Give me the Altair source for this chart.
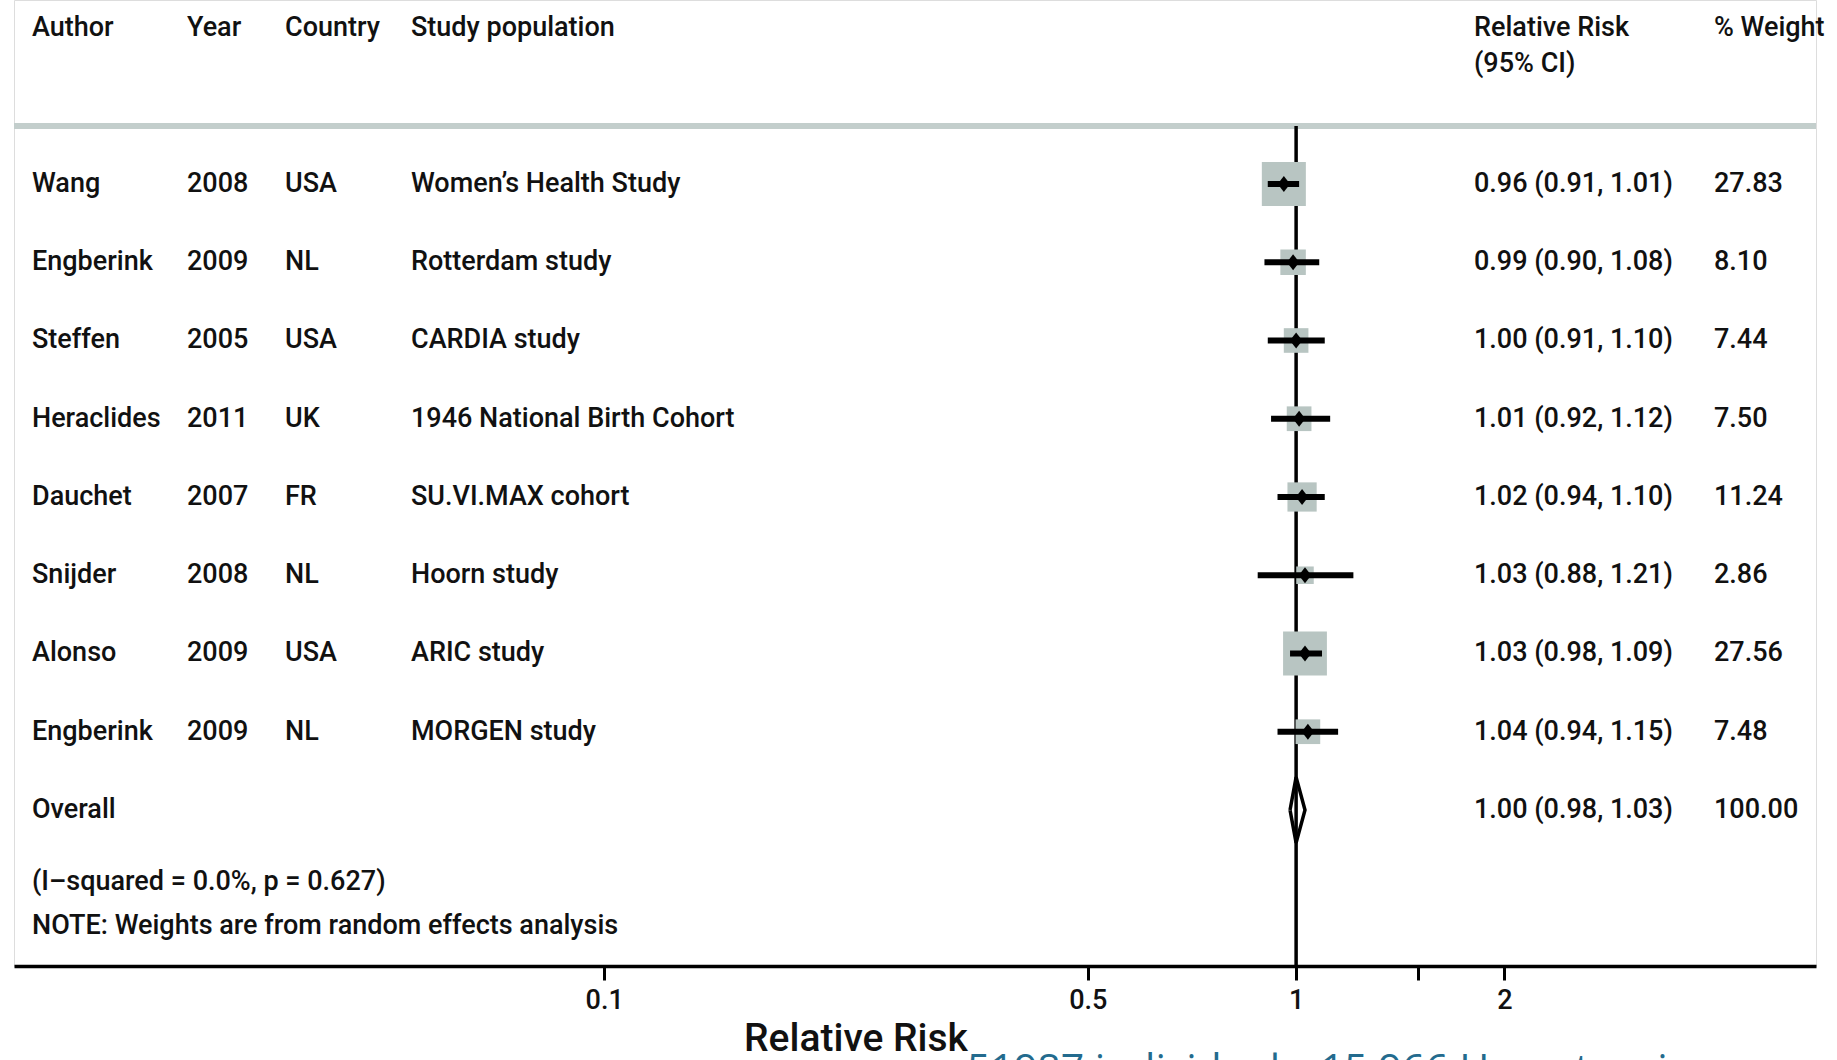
import altair as alt
import pandas as pd

# Study-level estimates (relative risk with 95% CI) and random-effects weights
authors = ["Wang", "Engberink", "Steffen", "Heraclides", "Dauchet", "Snijder", "Alonso", "Engberink"]
years = ["2008", "2009", "2005", "2011", "2007", "2008", "2009", "2009"]
countries = ["USA", "NL", "USA", "UK", "FR", "NL", "USA", "NL"]
populations = [
    "Women\u2019s Health Study", "Rotterdam study", "CARDIA study", "1946 National Birth Cohort",
    "SU.VI.MAX cohort", "Hoorn study", "ARIC study", "MORGEN study",
]
rr = [0.96, 0.99, 1.00, 1.01, 1.02, 1.03, 1.03, 1.04]
ci_low = [0.91, 0.90, 0.91, 0.92, 0.94, 0.88, 0.98, 0.94]
ci_high = [1.01, 1.08, 1.10, 1.12, 1.10, 1.21, 1.09, 1.15]
weights = [27.83, 8.10, 7.44, 7.50, 11.24, 2.86, 27.56, 7.48]

# Pooled estimate
overall_rr = 1.00
overall_low = 0.98
overall_high = 1.03
overall_weight = 100.00

header_cols = ["Author", "Year", "Country", "Study population"]
heterogeneity = "(I\u2013squared = 0.0%, p = 0.627)"
note = "NOTE: Weights are from random effects analysis"
tick_values = [0.1, 0.5, 1, 1.5, 2]

# ---- layout ----
W, H = 1802, 966
FONT = "Roboto"
FW = 500
FS = 27
INK = "#111111"
ROW_DOMAIN = [-1.3514, 10.994]
COL_X = {"author": 18, "year": 173, "country": 271, "pop": 397, "rr": 1460, "wt": 1700}

n = len(authors)
studies = pd.DataFrame({
    "row": list(range(1, n + 1)),
    "author": authors, "year": years, "country": countries, "pop": populations,
    "rr": rr, "lo": ci_low, "hi": ci_high, "weight": weights,
})
studies["rr_txt"] = [f"{a:.2f} ({b:.2f}, {c:.2f})" for a, b, c in zip(rr, ci_low, ci_high)]
studies["wt_txt"] = [f"{w:.2f}" for w in weights]

overall_row = n + 1
summary = pd.DataFrame({
    "row": [overall_row], "author": ["Overall"], "year": [""], "country": [""], "pop": [""],
    "rr_txt": [f"{overall_rr:.2f} ({overall_low:.2f}, {overall_high:.2f})"],
    "wt_txt": [f"{overall_weight:.2f}"],
})
text_rows = pd.concat(
    [studies[["row", "author", "year", "country", "pop", "rr_txt", "wt_txt"]], summary],
    ignore_index=True,
)

# Pooled diamond outline, traced through its four vertices
half = 0.42
diamond = pd.DataFrame({
    "x": [overall_low, overall_rr, overall_high, overall_rr, overall_low],
    "row": [overall_row, overall_row - half, overall_row, overall_row + half, overall_row],
    "k": [0, 1, 2, 3, 4],
})

xscale = alt.Scale(type="log", domain=[0.01403, 5.641], nice=False, zero=False)
yscale = alt.Scale(domain=ROW_DOMAIN, reverse=True, nice=False, zero=False)

x_axis = alt.Axis(
    values=tick_values,
    labelExpr="datum.value == 1.5 ? '' : format(datum.value, '')",
    title=None, grid=False, domainColor="black", domainWidth=3.5,
    tickColor="black", tickWidth=3, tickSize=14, labelPadding=7,
    labelFont=FONT, labelFontWeight=FW, labelFontSize=FS, labelColor=INK, labelFlush=False,
    labelOverlap=False,
)

base = alt.Chart(studies)
one = alt.Chart(pd.DataFrame({"v": [1]}))

separator = one.mark_rule(color="#c3cecc", strokeWidth=6).encode(
    x=alt.value(0), x2=alt.value(W), y=alt.value(126)
)

null_line = one.mark_rule(color="black", strokeWidth=3.5).encode(
    x=alt.X("v:Q", scale=xscale, axis=x_axis), y=alt.value(126), y2=alt.value(H)
)

squares = base.mark_square(color="#b8c5c2", opacity=1).encode(
    x=alt.X("rr:Q", scale=xscale),
    y=alt.Y("row:Q", scale=yscale, axis=None),
    size=alt.Size("weight:Q", scale=alt.Scale(domain=[0, 28], range=[120, 1950]), legend=None),
)

ci = base.mark_rule(color="black", strokeWidth=6).encode(
    x=alt.X("lo:Q", scale=xscale), x2="hi:Q", y=alt.Y("row:Q", scale=yscale)
)

points = base.mark_point(
    shape="M0,-1.15L0.9,0L0,1.15L-0.9,0Z", filled=True, color="black", opacity=1, size=190
).encode(x=alt.X("rr:Q", scale=xscale), y=alt.Y("row:Q", scale=yscale))

pooled = alt.Chart(diamond).mark_line(color="black", strokeWidth=3.5).encode(
    x=alt.X("x:Q", scale=xscale), y=alt.Y("row:Q", scale=yscale), order="k:Q"
)


def column(field, key):
    return alt.Chart(text_rows).mark_text(
        align="left", baseline="middle", font=FONT, fontWeight=FW, fontSize=FS, color=INK
    ).encode(x=alt.value(COL_X[key]), y=alt.Y("row:Q", scale=yscale), text=f"{field}:N")


cols = [column("author", "author"), column("year", "year"), column("country", "country"),
        column("pop", "pop"), column("rr_txt", "rr"), column("wt_txt", "wt")]


def label(txt, x, y, size=FS, **kw):
    return one.mark_text(
        align=kw.pop("align", "left"), baseline=kw.pop("baseline", "middle"),
        font=kw.pop("font", FONT), fontWeight=kw.pop("fontWeight", FW),
        fontSize=size, color=kw.pop("color", INK), **kw
    ).encode(x=alt.value(x), y=alt.value(y), text=alt.value(txt))


headers = [
    label(header_cols[0], COL_X["author"], 28),
    label(header_cols[1], COL_X["year"], 28),
    label(header_cols[2], COL_X["country"], 28),
    label(header_cols[3], COL_X["pop"], 28),
    label("Relative Risk", COL_X["rr"], 28),
    label("(95% CI)", COL_X["rr"], 64),
    label("% Weight", COL_X["wt"], 28),
]

notes = [
    label(heterogeneity, COL_X["author"], 882),
    label(note, COL_X["author"], 926),
]

axis_title = label("Relative Risk", 842, 1039, size=39, align="center")
caption = label("51987 individuals, 15,966 Hypertensive", 953, 1051, size=41,
                baseline="top", font="Open Sans", fontWeight="normal", color="#236b8e")

chart = alt.layer(
    separator, null_line, squares, ci, points, pooled, *cols, *headers, *notes,
    axis_title, caption,
).properties(
    width=W, height=H,
    autosize=alt.AutoSizeParams(type="none"),
    padding={"left": 14, "right": 21, "top": 0, "bottom": 94},
).configure_view(stroke=None).configure(background="white")

chart.save("out.html", embed_options={"renderer": "svg", "actions": False})
